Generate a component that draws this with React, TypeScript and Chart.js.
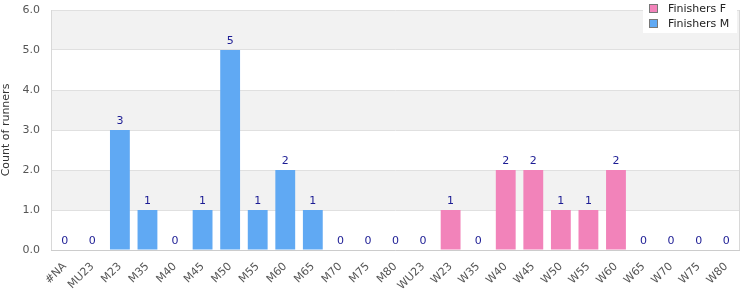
import React, { useEffect, useRef } from "react";
import { Chart, registerables } from "chart.js";

Chart.register(...registerables);

const categories = ["#NA", "MU23", "M23", "M35", "M40", "M45", "M50", "M55", "M60", "M65", "M70", "M75", "M80", "WU23", "W23", "W35", "W40", "W45", "W50", "W55", "W60", "W65", "W70", "W75", "W80"];
const finishersF: (number | null)[] = [null, null, null, null, null, null, null, null, null, null, null, null, null, 0, 1, 0, 2, 2, 1, 1, 2, 0, 0, 0, 0];
const finishersM: (number | null)[] = [0, 0, 3, 1, 0, 1, 5, 1, 2, 1, 0, 0, 0, null, null, null, null, null, null, null, null, null, null, null, null];
const yTicks = [0, 1, 2, 3, 4, 5, 6];

const FONT = "'DejaVu Sans', Verdana, sans-serif";

const bandsPlugin = {
  id: "bands",
  beforeDraw(chart: any) {
    const { ctx, chartArea, scales } = chart;
    const y = scales.y;
    ctx.save();
    ctx.fillStyle = "#ffffff";
    ctx.fillRect(chartArea.left, chartArea.top, chartArea.right - chartArea.left, chartArea.bottom - chartArea.top);
    ctx.fillStyle = "#f2f2f2";
    for (let i = 0; i < yTicks.length - 1; i++) {
      if (i % 2 === 1) {
        const top = y.getPixelForValue(yTicks[i + 1]);
        const bot = y.getPixelForValue(yTicks[i]);
        ctx.fillRect(chartArea.left, top, chartArea.right - chartArea.left, bot - top);
      }
    }
    ctx.restore();
  },
  afterDraw(chart: any) {
    const { ctx, chartArea } = chart;
    ctx.save();
    ctx.strokeStyle = "#d8d8d8";
    ctx.lineWidth = 1;
    ctx.beginPath();
    ctx.moveTo(Math.round(chartArea.left) + 0.5, chartArea.top);
    ctx.lineTo(Math.round(chartArea.left) + 0.5, chartArea.bottom);
    ctx.moveTo(Math.round(chartArea.right) - 0.5, chartArea.top);
    ctx.lineTo(Math.round(chartArea.right) - 0.5, chartArea.bottom);
    ctx.stroke();
    ctx.strokeStyle = "#cccccc";
    ctx.beginPath();
    ctx.moveTo(chartArea.left, Math.round(chartArea.bottom) + 0.5);
    ctx.lineTo(chartArea.right, Math.round(chartArea.bottom) + 0.5);
    ctx.stroke();

    // data labels
    ctx.fillStyle = "#1c1c94";
    ctx.font = `11px ${FONT}`;
    ctx.textAlign = "center";
    ctx.textBaseline = "middle";
    chart.data.datasets.forEach((ds: any, di: number) => {
      const meta = chart.getDatasetMeta(di);
      meta.data.forEach((bar: any, i: number) => {
        const v = ds.data[i];
        if (v === null || v === undefined) return;
        ctx.fillText(String(v), bar.x, bar.y - 9);
      });
    });

    // legend
    const lx = 643, ly = 0, lw = 94, lh = 33;
    ctx.fillStyle = "#ffffff";
    ctx.fillRect(lx, ly, lw, lh);
    ctx.textAlign = "left";
    ctx.font = `11px ${FONT}`;
    chart.data.datasets.forEach((ds: any, di: number) => {
      const cy = 9 + di * 15;
      ctx.fillStyle = ds.backgroundColor;
      ctx.fillRect(649.5, cy - 4.5, 8, 8);
      ctx.strokeStyle = "#777777";
      ctx.lineWidth = 1;
      ctx.strokeRect(649.5, cy - 4.5, 8, 8);
      ctx.fillStyle = "#222222";
      ctx.fillText(ds.label, 668, cy);
    });
    ctx.restore();
  },
};

export default function App() {
  const ref = useRef<HTMLCanvasElement>(null);
  useEffect(() => {
    document.body.style.margin = "0";
    const chart = new Chart(ref.current as HTMLCanvasElement, {
      type: "bar",
      data: {
        labels: categories,
        datasets: [
          { label: "Finishers F", data: finishersF, backgroundColor: "#f283ba", barPercentage: 0.72, categoryPercentage: 1 },
          { label: "Finishers M", data: finishersM, backgroundColor: "#60a9f3", barPercentage: 0.72, categoryPercentage: 1 },
        ],
      },
      options: {
        animation: false,
        responsive: false,
        layout: { padding: { top: 10, right: 10, left: 0, bottom: 0 } },
        plugins: { legend: { display: false }, tooltip: { enabled: false } },
        scales: {
          x: {
            stacked: true,
            grid: { display: false, drawTicks: false },
            border: { display: false },
            ticks: {
              color: "#555555",
              font: { family: FONT, size: 11 },
              maxRotation: 45,
              minRotation: 45,
              autoSkip: false,
              padding: 10,
            },
            afterFit(scale: any) { scale.height = 50; },
          },
          y: {
            stacked: true,
            min: 0,
            max: 6,
            grid: { color: "#e0e0e0", drawTicks: true, tickLength: 9, tickColor: "rgba(0,0,0,0)" },
            border: { display: false },
            ticks: {
              stepSize: 1,
              color: "#555555",
              font: { family: FONT, size: 11 },
              padding: 2,
              callback: (v: any) => Number(v).toFixed(1),
            },
            title: {
              display: true,
              text: "Count of runners",
              color: "#333333",
              font: { family: FONT, size: 11 },
              padding: 0,
            },
            afterFit(scale: any) { scale.width = 51; },
          },
        },
      },
      plugins: [bandsPlugin],
    });
    return () => chart.destroy();
  }, []);
  return <canvas ref={ref} width={750} height={300} style={{ display: "block" }} />;
}
